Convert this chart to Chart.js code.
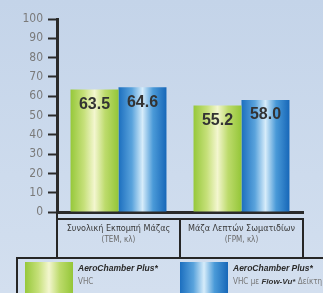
<!DOCTYPE html>
<html>
<head>
<meta charset="utf-8">
<script src="https://cdn.jsdelivr.net/npm/chart.js@4"></script>
<style>
    html, body { margin: 0; padding: 0; }
    body {
        width: 323px; height: 293px; overflow: hidden;
        background: linear-gradient(180deg, #c4d4e9 0%, #cddbed 60%, #d3dfef 100%);
    }
    #wrap { position: relative; width: 323px; height: 293px; }
</style>
</head>
<body>
<div id="wrap"><canvas id="barChart" width="323" height="293"></canvas></div>
<script>
// --- data ---
const categories = ['Συνολική Εκπομπή Μάζας', 'Μάζα Λεπτών Σωματιδίων'];
const categoryUnits = ['(TEM, κλ)', '(FPM, κλ)'];
const seriesNames = ['AeroChamber Plus*', 'AeroChamber Plus*'];
const seriesSubs = ['VHC', 'VHC με Flow-Vu* Δείκτη'];
const vhcValues = [63.5, 55.2];
const flowVuValues = [64.6, 58.0];
const yTicks = [0, 10, 20, 30, 40, 50, 60, 70, 80, 90, 100];

const CAT_PCT = 0.78;
const NARROW = '"DejaVu Sans Condensed", Arial, sans-serif';
const greenStops = ['#96c83a', '#c6e07a', '#f3f6cf', '#bddb6c', '#94c638'];
const blueStops = ['#1c6fbf', '#5aa3dc', '#d6ecfa', '#4a9ad8', '#1767b8'];

function cylinder(ctx2d, left, width, stops) {
    const g = ctx2d.createLinearGradient(left, 0, left + width, 0);
    g.addColorStop(0, stops[0]);
    g.addColorStop(0.28, stops[1]);
    g.addColorStop(0.5, stops[2]);
    g.addColorStop(0.72, stops[3]);
    g.addColorStop(1, stops[4]);
    return g;
}

// gradient per bar, placed from the x scale
function barFill(stops) {
    return function(c) {
        const chart = c.chart;
        const xs = chart.scales.x;
        if (!chart.chartArea || !xs) return stops[0];
        const catW = xs.width / categories.length;
        const barW = catW * CAT_PCT / 2;
        const left = xs.getPixelForValue(c.dataIndex) - catW * CAT_PCT / 2 + c.datasetIndex * barW;
        return cylinder(chart.ctx, left, barW, stops);
    };
}

// value labels inside the top of each bar
const valueLabels = {
    id: 'valueLabels',
    afterDatasetsDraw(chart) {
        const ctx = chart.ctx;
        ctx.save();
        ctx.font = 'bold 16px "Liberation Sans", Arial, sans-serif';
        ctx.fillStyle = '#333';
        ctx.textAlign = 'center';
        ctx.textBaseline = 'middle';
        chart.data.datasets.forEach((ds, di) => {
            chart.getDatasetMeta(di).data.forEach((bar, i) => {
                ctx.fillText(ds.data[i].toFixed(1), bar.x, bar.y + 15);
            });
        });
        ctx.restore();
    }
};

// category boxes under the axis and legend box
const boxesAndLegend = {
    id: 'boxesAndLegend',
    afterDraw(chart) {
        const ctx = chart.ctx;
        const xs = chart.scales.x;
        const area = chart.chartArea;
        const catW = xs.width / categories.length;
        const top = area.bottom + 7, bottom = area.bottom + 46;
        ctx.save();
        ctx.strokeStyle = '#262626';
        ctx.lineWidth = 2;
        ctx.beginPath();
        ctx.moveTo(area.left, area.bottom);
        ctx.lineTo(area.left, bottom);
        ctx.stroke();
        categories.forEach((cat, i) => {
            const cx = xs.getPixelForValue(i);
            const l = i === 0 ? area.left : cx - catW / 2;
            ctx.strokeRect(l, top, cx + catW / 2 - l, bottom - top);
            ctx.textAlign = 'center';
            ctx.textBaseline = 'middle';
            ctx.font = '9px ' + NARROW;
            ctx.fillStyle = '#3a3a3a';
            ctx.fillText(cat, cx, top + 10);
            ctx.font = '8px ' + NARROW;
            ctx.fillStyle = '#6a6a6a';
            ctx.fillText(categoryUnits[i], cx, top + 21);
        });

        // legend
        const lgTop = bottom;
        ctx.strokeRect(17, lgTop, 340, 60);
        const swatches = [{x: 25, stops: greenStops}, {x: 180, stops: blueStops}];
        swatches.forEach((s, i) => {
            ctx.fillStyle = cylinder(ctx, s.x, 48, s.stops);
            ctx.fillRect(s.x, lgTop + 4, 48, 40);
            const tx = s.x + 53;
            ctx.textAlign = 'left';
            ctx.textBaseline = 'alphabetic';
            ctx.font = 'italic bold 8.5px "Liberation Sans", Arial, sans-serif';
            ctx.fillStyle = '#2a2a2a';
            ctx.fillText(seriesNames[i], tx, lgTop + 13);
            ctx.font = '8px ' + NARROW;
            ctx.fillStyle = '#777';
            if (i === 0) {
                ctx.fillText(seriesSubs[i], tx, lgTop + 26);
            } else {
                const parts = seriesSubs[i].split('Flow-Vu*');
                ctx.fillText(parts[0], tx, lgTop + 26);
                let w = ctx.measureText(parts[0]).width;
                ctx.font = 'italic bold 8px "Liberation Sans", Arial, sans-serif';
                ctx.fillStyle = '#333';
                ctx.fillText('Flow-Vu*', tx + w, lgTop + 26);
                w += ctx.measureText('Flow-Vu*').width;
                ctx.font = '8px ' + NARROW;
                ctx.fillStyle = '#777';
                ctx.fillText(parts[1], tx + w, lgTop + 26);
            }
        });
        ctx.restore();
    }
};

const ctx = document.getElementById('barChart').getContext('2d');

const barChart = new Chart(ctx, {
    type: 'bar',
    data: {
        labels: categories,
        datasets: [{
            label: seriesNames[0] + ' ' + seriesSubs[0],
            data: vhcValues,
            backgroundColor: barFill(greenStops),
            borderWidth: 0
        }, {
            label: seriesNames[1] + ' ' + seriesSubs[1],
            data: flowVuValues,
            backgroundColor: barFill(blueStops),
            borderWidth: 0
        }]
    },
    options: {
        responsive: false,
        animation: false,
        events: [],
        layout: { padding: { top: 19, right: 20, bottom: 81, left: 0 } },
        datasets: { bar: { categoryPercentage: CAT_PCT, barPercentage: 1 } },
        plugins: {
            legend: { display: false },
            tooltip: { enabled: false }
        },
        scales: {
            x: {
                grid: { display: false, drawTicks: false },
                border: { display: true, color: '#2a2a2a', width: 3 },
                ticks: { display: false },
                afterFit(scale) { scale.height = 0; }
            },
            y: {
                min: 0,
                max: 100,
                afterBuildTicks(scale) { scale.ticks = yTicks.map(v => ({ value: v })); },
                grid: { drawOnChartArea: false, color: '#2a2a2a', tickLength: 9, tickWidth: 2 },
                border: { display: true, color: '#2a2a2a', width: 3 },
                ticks: {
                    color: '#7a7a7a',
                    padding: 5,
                    font: { family: NARROW, size: 12 }
                },
                afterFit(scale) { scale.width = 57; }
            }
        }
    },
    plugins: [valueLabels, boxesAndLegend]
});
</script>
</body>
</html>
